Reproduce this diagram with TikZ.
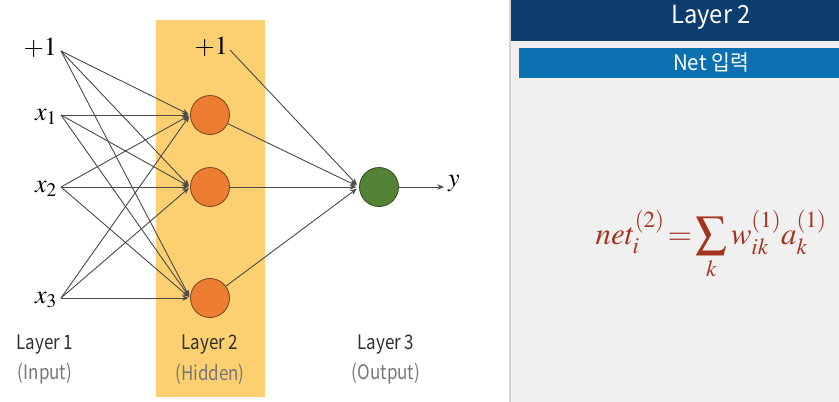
\documentclass[tikz,border=0pt]{standalone}
\usepackage[no-math]{fontspec}
\usepackage{mathptmx}
\newfontfamily\labfont[FakeStretch=0.85]{Noto Sans CJK KR}
\newfontfamily\headfont[FakeStretch=0.95]{Noto Sans CJK KR}
\usetikzlibrary{arrows.meta}
\definecolor{lineg}{HTML}{4A4A4A}
\definecolor{hidy}{HTML}{FCD070}
\definecolor{orangef}{HTML}{ED7D31}
\definecolor{orangeb}{HTML}{7A4020}
\definecolor{greenf}{HTML}{548235}
\definecolor{greenb}{HTML}{2F4A1E}
\definecolor{panelg}{HTML}{F0F0F0}
\definecolor{borderg}{HTML}{D2D2D2}
\definecolor{headb}{HTML}{0D3D6D}
\definecolor{barb}{HTML}{0B70AF}
\definecolor{formr}{HTML}{A3331F}
\definecolor{labd}{HTML}{2E2E2E}
\definecolor{labl}{HTML}{777777}
\begin{document}
\begin{tikzpicture}[x=1pt,y=-1pt,
  edge/.style={draw=lineg, line width=0.9pt, -{Stealth[length=6.5pt,width=5.5pt]}},
  hneuron/.style={circle, draw=orangeb, fill=orangef, line width=0.8pt, minimum size=39pt, inner sep=0pt},
  oneuron/.style={circle, draw=greenb, fill=greenf, line width=0.8pt, minimum size=39pt, inner sep=0pt},
  inlab/.style={anchor=east, inner sep=0pt, font=\fontsize{26}{30}\selectfont},
  laytop/.style={text=labd, inner sep=0pt, font=\labfont\fontsize{20}{23}\selectfont},
  laybot/.style={text=labl, inner sep=0pt, font=\labfont\fontsize{20}{23}\selectfont}]
\useasboundingbox (0,0) rectangle (839,402);
% hidden layer band
\fill[hidy] (156,20) rectangle (265,397);
% right panel
\fill[panelg] (510,0) rectangle (839,402);
\draw[borderg, line width=2pt] (510,0) -- (510,402);
\fill[headb] (511,0) rectangle (839,41);
\fill[barb] (519,48) rectangle (839,78);
\node[text=white, inner sep=0pt, font=\headfont\fontsize{25}{28}\selectfont] (head) at (711,17) {Layer 2};
\node[text=white, inner sep=0pt, font=\headfont\fontsize{21.5}{24}\selectfont] (bar) at (711,62) {Net 입력};
\node[text=formr, anchor=base, inner sep=0pt, font=\fontsize{31}{35}\selectfont] (form) at (711,244)
  {$\displaystyle net_i^{(2)}\!=\!\sum_k w_{ik}^{(1)}a_k^{(1)}$};
% input layer
\coordinate (a0) at (61,51);
\coordinate (a1) at (61,115);
\coordinate (a2) at (61,187);
\coordinate (a3) at (61,298);
\node[inlab] (t0) at (57,48) {$+1$};
\node[inlab] (t1) at (57,117) {$x_1$};
\node[inlab] (t2) at (57,189) {$x_2$};
\node[inlab] (t3) at (57,300) {$x_3$};
% hidden layer
\node[hneuron] (h1) at (210,115) {};
\node[hneuron] (h2) at (210,187) {};
\node[hneuron] (h3) at (210,298) {};
\coordinate (b0) at (230,50);
\node[inlab] (tb) at (228,47) {$+1$};
% output
\node[oneuron] (o) at (379,187) {};
\coordinate (yend) at (444,187);
\node[anchor=west, inner sep=0pt, font=\fontsize{26}{30}\selectfont] (ty) at (448,184) {$y$};
% edges input -> hidden
\foreach \s in {a0,a1,a2,a3}{
  \foreach \t in {h1,h2,h3}{
    \draw[edge, shorten >=1.5pt] (\s) -- (\t.west);
  }
}
% edges hidden -> output
\draw[edge, shorten >=3pt] (b0) -- (o.west);
\foreach \s in {h1,h2,h3}{
  \draw[edge, shorten >=3pt] (\s) -- (o.west);
}
\draw[edge] (o) -- (yend);
% layer labels
\node[laytop] (l1) at (45,345) {Layer 1};
\node[laybot] (l1b) at (45,374) {(Input)};
\node[laytop] (l2) at (210,345) {Layer 2};
\node[laybot] (l2b) at (210,374) {(Hidden)};
\node[laytop] (l3) at (386,345) {Layer 3};
\node[laybot] (l3b) at (386,374) {(Output)};
\end{tikzpicture}
\end{document}
